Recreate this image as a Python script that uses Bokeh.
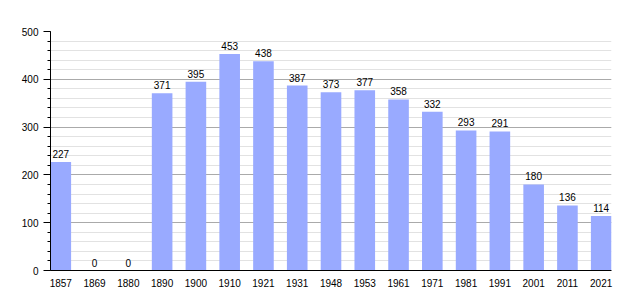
from bokeh.plotting import figure
from bokeh.models import ColumnDataSource, Range1d, FixedTicker, SingleIntervalTicker
from bokeh.core.properties import value
from bokeh.embed import file_html
from bokeh.resources import INLINE

years = ["1857", "1869", "1880", "1890", "1900", "1910", "1921", "1931", "1948",
         "1953", "1961", "1971", "1981", "1991", "2001", "2011", "2021"]
population = [227, 0, 0, 371, 395, 453, 438, 387, 373, 377, 358, 332, 293, 291, 180, 136, 114]

BAR_W = 0.61
xs = list(range(len(years)))
src = ColumnDataSource(data=dict(x=xs, y=population, label=[str(v) for v in population]))

p = figure(width=640, height=300, output_backend="svg", toolbar_location=None,
           x_range=Range1d(-BAR_W / 2, len(years) - 1 + BAR_W / 2),
           y_range=Range1d(0, 500),
           min_border_left=50, min_border_right=29, min_border_top=31, min_border_bottom=30)
p.outline_line_color = None
p.background_fill_color = "white"
p.border_fill_color = "white"

p.vbar(x="x", top="y", width=BAR_W, source=src, fill_color="#99aaff", line_color=None)
p.text(x="x", y="y", text="label", source=src, text_align="center", text_baseline="bottom",
       y_offset=-4, text_font=value("Liberation Sans"), text_font_size="10px", text_color="#000000")

# x axis
p.xaxis.ticker = FixedTicker(ticks=xs)
p.xaxis.major_label_overrides = {i: y for i, y in enumerate(years)}
p.xaxis.major_tick_line_color = None
p.xaxis.minor_tick_line_color = None
p.xaxis.axis_line_color = "black"
p.xaxis.major_label_standoff = 2
p.xaxis.major_label_text_font = "Liberation Sans"
p.xaxis.major_label_text_font_size = "10px"
p.xaxis.major_label_text_color = "black"
p.xgrid.grid_line_color = None

# y axis
p.yaxis.ticker = SingleIntervalTicker(interval=100, num_minor_ticks=5)
p.yaxis.axis_line_color = "black"
p.yaxis.major_tick_line_color = "black"
p.yaxis.minor_tick_line_color = "black"
p.yaxis.major_tick_out = 7
p.yaxis.major_tick_in = 0
p.yaxis.minor_tick_out = 3
p.yaxis.minor_tick_in = 0
p.yaxis.major_label_standoff = 5
p.yaxis.major_label_text_font = "Liberation Sans"
p.yaxis.major_label_text_font_size = "10px"
p.yaxis.major_label_text_color = "black"
p.ygrid.grid_line_color = "#aaaaaa"
p.ygrid.minor_grid_line_color = "#e2e2e2"

open("out.html", "w").write(file_html(p, INLINE))
